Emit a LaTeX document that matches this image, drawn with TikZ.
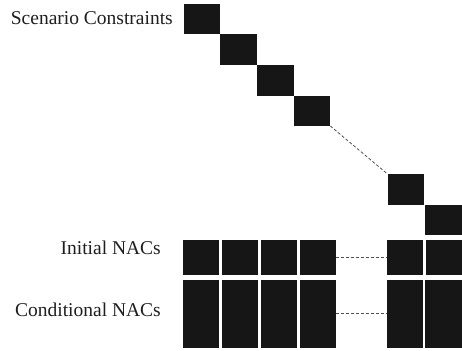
\documentclass[tikz,border=0pt]{standalone}
\usepackage{fontspec}
\setmainfont{Liberation Serif}
\usepackage{xcolor}
\usetikzlibrary{positioning}
\definecolor{blkc}{HTML}{161616}
\definecolor{txtc}{HTML}{1E1E1E}
\definecolor{dsh}{HTML}{505050}
\tikzset{
  sq/.style={fill=blkc, minimum width=36.7pt, minimum height=30.5pt, inner sep=0pt, outer sep=0pt, anchor=north west},
  ini/.style={fill=blkc, minimum width=36pt, minimum height=34.6pt, inner sep=0pt, outer sep=0pt},
  cnd/.style={fill=blkc, minimum width=36.5pt, minimum height=67.5pt, inner sep=0pt, outer sep=0pt},
  lbl/.style={anchor=base east, inner sep=0pt, text=txtc, font=\fontsize{19.5}{23}\selectfont},
  gap/.style={draw=dsh, line width=0.8pt, dash pattern=on 3pt off 2pt}}
\begin{document}
\begin{tikzpicture}[x=1pt, y=1pt]
\useasboundingbox (0,0) rectangle (462,-350);
% scenario constraints on the diagonal
\node[sq] (s1) at (183.5,-4) {};
\node[sq] (s2) at (s1.south east) {};
\node[sq] (s3) at (s2.south east) {};
\node[sq] (s4) at (s3.south east) {};
\node[sq] (s5) at (387.5,-174) {};
\node[sq] (s6) at (425.3,-204.5) {};
% initial NACs
\node[ini, anchor=north west] (i1) at (182.5,-240) {};
\node[ini, right=3pt of i1] (i2) {};
\node[ini, right=3pt of i2] (i3) {};
\node[ini, right=3pt of i3] (i4) {};
\node[ini, anchor=north west] (i5) at (386.5,-240) {};
\node[ini, right=3.5pt of i5] (i6) {};
% conditional NACs
\node[cnd, anchor=north west] (c1) at (182.5,-280) {};
\node[cnd, right=2.5pt of c1] (c2) {};
\node[cnd, right=2.5pt of c2] (c3) {};
\node[cnd, right=2.5pt of c3] (c4) {};
\node[cnd, anchor=north west] (c5) at (386.5,-280) {};
\node[cnd, right=2pt of c5] (c6) {};
\draw[gap] (s4.south east) -- (s5.north west);
\draw[gap] (i4.east) -- (i5.west);
\draw[gap] (c4.east) -- (c5.west);
\node[lbl] (lsc) at (173,-25) {Scenario Constraints};
\node[lbl] (lin) at (161,-254) {Initial NACs};
\node[lbl] (lcn) at (161,-316) {Conditional NACs};
\end{tikzpicture}
\end{document}
